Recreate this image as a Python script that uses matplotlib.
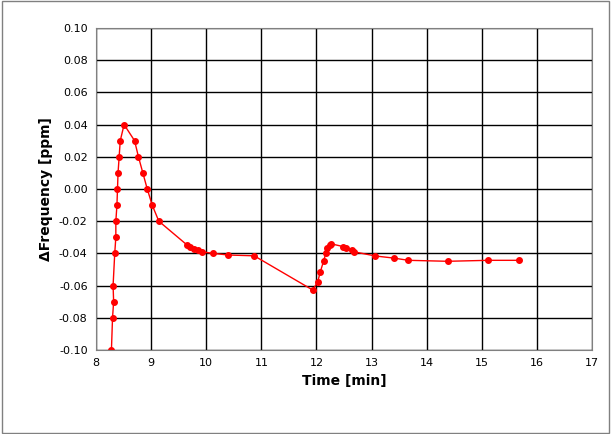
import matplotlib
matplotlib.use("Agg")
import matplotlib.pyplot as plt

time_min = [8.28, 8.30, 8.32, 8.31, 8.34, 8.36, 8.36, 8.38, 8.39, 8.40, 8.42, 8.44, 8.51,
            8.70, 8.77, 8.85, 8.93, 9.02, 9.14, 9.66, 9.70, 9.77, 9.85, 9.92, 10.13, 10.40, 10.87,
            11.93, 12.02, 12.07, 12.13, 12.17, 12.20, 12.24, 12.26, 12.49, 12.53, 12.64, 12.68,
            13.07, 13.40, 13.67, 14.38, 15.12, 15.67]
dfreq = [-0.100, -0.080, -0.070, -0.060, -0.040, -0.030, -0.020, -0.010, 0.000, 0.010, 0.020, 0.030, 0.040,
         0.030, 0.020, 0.010, 0.000, -0.010, -0.020, -0.035, -0.036, -0.037, -0.038, -0.039, -0.040, -0.041, -0.0415,
         -0.0627, -0.058, -0.0515, -0.0447, -0.040, -0.0368, -0.0348, -0.034, -0.0358, -0.0366, -0.038, -0.039,
         -0.0416, -0.0429, -0.0443, -0.0449, -0.0443, -0.0443]

fig = plt.figure(figsize=(6.11, 4.34), dpi=100)
ax = fig.add_axes([96/611, 1-350/434, 496/611, 322/434])
ax.plot(time_min, dfreq, color="red", lw=1, marker="o", ms=4, mec="red", mfc="red")
ax.set_xlim(8, 17)
ax.set_ylim(-0.10, 0.10)
ax.set_xticks(range(8, 18))
ax.set_yticks([i/100 for i in range(-10, 11, 2)])
ax.set_yticklabels([f"{i/100:.2f}" for i in range(-10, 11, 2)])
ax.grid(True, color="black", lw=1)
ax.tick_params(labelsize=8, length=0, pad=6)
for s in ax.spines.values():
    s.set_color("#808080")
ax.set_xlabel("Time [min]", fontsize=10, fontweight="bold")
ax.set_ylabel("\u0394Frequency [ppm]", fontsize=10, fontweight="bold")
fig.add_artist(plt.Rectangle((0.003, 0.003), 0.994, 0.994, transform=fig.transFigure, fill=False, ec="#808080", lw=1))
fig.savefig("out.png", dpi=100)
